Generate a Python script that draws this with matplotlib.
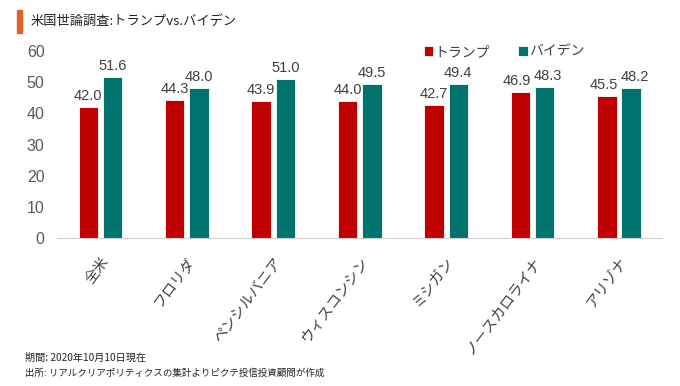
import matplotlib.pyplot as plt
import numpy as np
from matplotlib.patches import Rectangle

plt.rcParams['font.family'] = ['Noto Sans CJK JP', 'DejaVu Sans']

states = ['全米', 'フロリダ', 'ペンシルバニア', 'ウィスコンシン', 'ミシガン', 'ノースカロライナ', 'アリゾナ']
trump = [42.0, 44.3, 43.9, 44.0, 42.7, 46.9, 45.5]
biden = [51.6, 48.0, 51.0, 49.5, 49.4, 48.3, 48.2]

red = '#C00000'
teal = '#00736E'
txt = '#404040'

fig = plt.figure(figsize=(6.8, 3.86), dpi=100)
ax = fig.add_axes([0.084, 0.383, 0.89, 0.485])

x = np.arange(len(states))
w = 0.225
b1 = ax.bar(x - 0.14, trump, w, color=red, edgecolor='white', linewidth=0.6, label='トランプ')
b2 = ax.bar(x + 0.14, biden, w, color=teal, edgecolor='white', linewidth=0.6, label='バイデン')

# labels pushed slightly apart when both bars are close in height (as Excel does)
for i in range(len(states)):
    shift = 2.5 if abs(trump[i] - biden[i]) < 3 else 0
    for r, v, sgn in [(b1[i], trump[i], -1), (b2[i], biden[i], 1)]:
        ax.annotate(f'{v:.1f}', (r.get_x() + r.get_width() / 2, v),
                    xytext=(sgn * shift, 3), textcoords='offset points',
                    ha='center', va='bottom', fontsize=10.5, color=txt,
                    family='Liberation Sans')

ax.set_ylim(0, 60)
ax.set_xlim(-0.5, len(states) - 0.5)
ax.set_yticks(range(0, 61, 10))
ax.tick_params(axis='y', length=0, labelsize=11.5, labelcolor='#595959', pad=9)
ax.tick_params(axis='x', length=0, pad=12)
for lab in ax.get_yticklabels():
    lab.set_family('Liberation Sans')
ax.set_xticks(x)
ax.set_xticklabels(states, rotation=53, ha='right', va='top',
                   rotation_mode='anchor', fontsize=10.5, color=txt)
for s in ['top', 'right', 'left']:
    ax.spines[s].set_visible(False)
ax.spines['bottom'].set_color('#D0D0D0')

ax.legend(loc='upper left', bbox_to_anchor=(0.585, 1.1), ncol=2, frameon=False,
          fontsize=10, handlelength=0.7, handleheight=0.7, handletextpad=0.1,
          columnspacing=2.0, labelcolor=txt)

# title with orange marker
fig.patches.append(Rectangle((17 / 680, 1 - 33 / 386), 5 / 680, 23 / 386,
                             transform=fig.transFigure, color='#E0622A'))
fig.text(31 / 680, 1 - 21 / 386, '米国世論調査:トランプvs.バイデン',
         fontsize=9.5, color='#222222', va='center', ha='left')

fig.text(25 / 680, 1 - 358 / 386, '期間: 2020年10月10日現在',
         fontsize=7.3, color='#222222', va='center')
fig.text(25 / 680, 1 - 373 / 386, '出所: リアルクリアポリティクスの集計よりピクテ投信投資顧問が作成',
         fontsize=6.8, color='#222222', va='center')

fig.savefig('out.png', dpi=100)
